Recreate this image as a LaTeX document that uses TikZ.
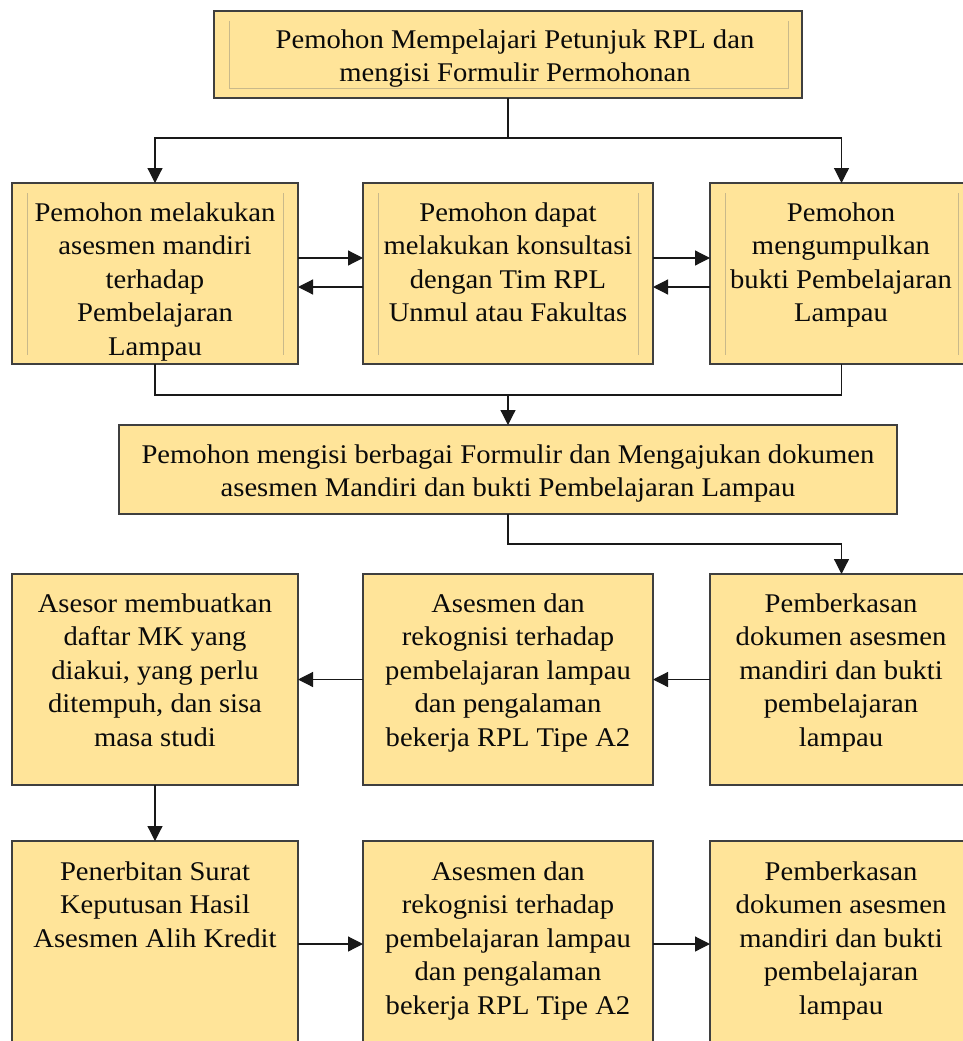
\documentclass[tikz,border=0pt]{standalone}
\usepackage{fontspec}
\setmainfont{Liberation Serif}[FakeStretch=1.06]
\usetikzlibrary{arrows.meta,calc}
\definecolor{boxfill}{HTML}{FFE499}
\definecolor{boxdraw}{HTML}{3F3F3F}
\definecolor{innerline}{HTML}{C9B98A}
\definecolor{txt}{HTML}{0A0A0A}
\tikzset{
  box/.style={rectangle, draw=boxdraw, fill=boxfill, line width=1.3pt, inner sep=0pt, outer sep=0pt},
  lbl/.style={anchor=north, align=center, inner sep=0pt, font=\fontsize{27}{33.5}\selectfont, text=txt, execute at begin node=\strut},
  conn/.style={line width=1.2pt, draw=black!90},
  arr/.style={conn, -{Triangle[length=15pt,width=15pt]}},
  innerln/.style={draw=innerline, line width=0.8pt}
}
\begin{document}
\begin{tikzpicture}[x=1pt,y=-1pt]
\clip (0,0) rectangle (963,1041);
\fill[white] (0,0) rectangle (963,1041);

% boxes
\node[box, minimum width=588pt, minimum height=87pt] (top) at (508,54.5) {};
\node[box, minimum width=286pt, minimum height=181pt] (a1) at (155,273.5) {};
\node[box, minimum width=290pt, minimum height=181pt] (a2) at (508,273.5) {};
\node[box, minimum width=263pt, minimum height=181pt] (a3) at (841.5,273.5) {};
\node[box, minimum width=778pt, minimum height=89pt] (mid) at (508,469.5) {};
\node[box, minimum width=286pt, minimum height=211pt] (b1) at (155,679.5) {};
\node[box, minimum width=290pt, minimum height=211pt] (b2) at (508,679.5) {};
\node[box, minimum width=263pt, minimum height=211pt] (b3) at (841.5,679.5) {};
\node[box, minimum width=286pt, minimum height=206pt] (c1) at (155,944) {};
\node[box, minimum width=290pt, minimum height=206pt] (c2) at (508,944) {};
\node[box, minimum width=263pt, minimum height=206pt] (c3) at (841.5,944) {};

% inner frame lines
\draw[innerln] ($(top.north west)+(15,10)$) -- ($(top.south west)+(15,-10)$) -- ($(top.south east)+(-14,-10)$) -- ($(top.north east)+(-14,10)$);
\foreach \b in {a1,a2,a3}{
  \draw[innerln] ($(\b.north west)+(15,10)$) -- ($(\b.south west)+(15,-9)$);
  \draw[innerln] ($(\b.north east)+(-15,10)$) -- ($(\b.south east)+(-15,-9)$);
}

% texts
\node[lbl] (ttop) at (515,29.5) {Pemohon Mempelajari Petunjuk RPL dan\\mengisi Formulir Permohonan};
\node[lbl] (ta1) at (155,202.5) {Pemohon melakukan\\asesmen mandiri\\terhadap\\Pembelajaran\\Lampau};
\node[lbl] (ta2) at (508,202.5) {Pemohon dapat\\melakukan konsultasi\\dengan Tim RPL\\Unmul atau Fakultas};
\node[lbl] (ta3) at (841,202.5) {Pemohon\\mengumpulkan\\bukti Pembelajaran\\Lampau};
\node[lbl] (tmid) at (508,444.5) {Pemohon mengisi berbagai Formulir dan Mengajukan dokumen\\asesmen Mandiri dan bukti Pembelajaran Lampau};
\node[lbl] (tb1) at (155,593.5) {Asesor membuatkan\\daftar MK yang\\diakui, yang perlu\\ditempuh, dan sisa\\masa studi};
\node[lbl] (tb2) at (508,593.5) {Asesmen dan\\rekognisi terhadap\\pembelajaran lampau\\dan pengalaman\\bekerja RPL Tipe A2};
\node[lbl] (tb3) at (841,593.5) {Pemberkasan\\dokumen asesmen\\mandiri dan bukti\\pembelajaran\\lampau};
\node[lbl] (tc1) at (155,861.5) {Penerbitan Surat\\Keputusan Hasil\\Asesmen Alih Kredit};
\node[lbl] (tc2) at (508,861.5) {Asesmen dan\\rekognisi terhadap\\pembelajaran lampau\\dan pengalaman\\bekerja RPL Tipe A2};
\node[lbl] (tc3) at (841,861.5) {Pemberkasan\\dokumen asesmen\\mandiri dan bukti\\pembelajaran\\lampau};

% connectors
\coordinate (j1) at (508,138);
\draw[conn] (top.south) -- (j1);
\draw[arr] (j1) -| (a1.north);
\draw[arr] (j1) -| (a3.north);

\draw[arr] ($(a1.east)+(0,-15.5)$) -- ($(a2.west)+(0,-15.5)$);
\draw[arr] ($(a2.west)+(0,13.5)$) -- ($(a1.east)+(0,13.5)$);
\draw[arr] ($(a2.east)+(0,-15.5)$) -- ($(a3.west)+(0,-15.5)$);
\draw[arr] ($(a3.west)+(0,13.5)$) -- ($(a2.east)+(0,13.5)$);

\coordinate (j2) at (508,395);
\draw[conn] (a1.south) -- ++(0,31) -| (a3.south);
\draw[arr] (j2) -- (mid.north);

\draw[arr] (mid.south) -- ++(0,30) -| (b3.north);
\draw[arr] (b3.west) -- (b2.east);
\draw[arr] (b2.west) -- (b1.east);
\draw[arr] (b1.south) -- (c1.north);
\draw[arr] (c1.east) -- (c2.west);
\draw[arr] (c2.east) -- (c3.west);
\end{tikzpicture}
\end{document}
